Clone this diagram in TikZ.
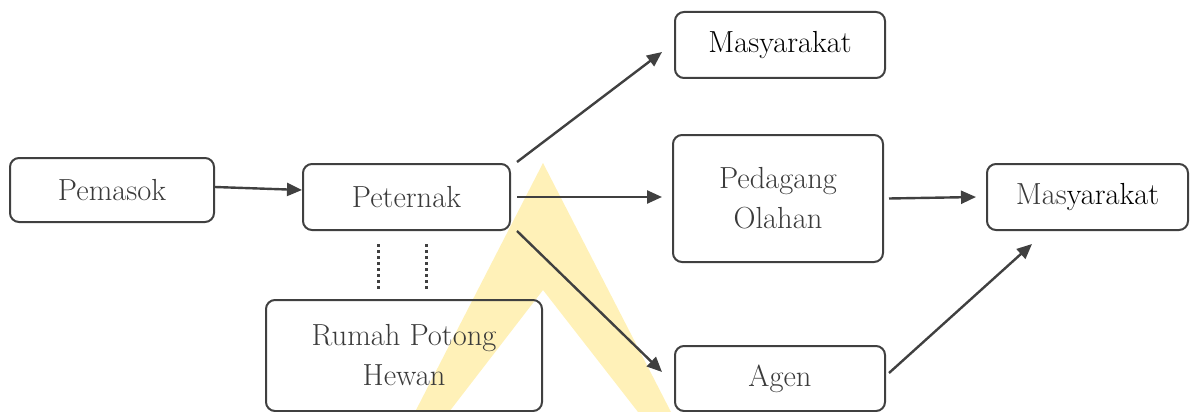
\documentclass[tikz,border=0pt]{standalone}
\usetikzlibrary{arrows.meta,calc}
\definecolor{ln}{HTML}{404040}
\definecolor{tx}{HTML}{3A3A3A}
\definecolor{wm}{HTML}{FFF1B8}
\tikzset{
  box/.style={draw=ln, line width=2pt, rounded corners=9pt, inner sep=0pt,
    text=tx, align=center, font=\fontsize{30.5}{40}\selectfont},
  arr/.style={draw=ln, line width=2.4pt, -{Triangle[length=15pt,width=13pt]}},
  dots/.style={draw=ln, line width=3pt, dash pattern=on 3.2pt off 2.8pt}
}
\begin{document}
\begin{tikzpicture}[x=1pt,y=-1pt]
\useasboundingbox (0,0) rectangle (1192,412);
% watermark
\fill[wm] (543,163) -- (671,412) -- (638,412) -- (543,290) -- (449,412) -- (415,412) -- cycle;
% nodes
\node[box, minimum width=204pt, minimum height=64pt] (pem) at (112,190) {Pemasok};
\node[box, minimum width=207pt, minimum height=66pt] (pet) at (406.5,197) {Peternak};
\node[box, minimum width=276pt, minimum height=111pt] (rph) at (404,355.5) {Rumah Potong\\Hewan};
\node[box, minimum width=210pt, minimum height=66pt, text=black] (m1) at (780,45) {Masyarakat};
\node[box, minimum width=210pt, minimum height=127pt] (ped) at (778,198.5) {Pedagang\\Olahan};
\node[box, minimum width=210pt, minimum height=65pt] (agen) at (780,378.5) {Agen};
\node[box, minimum width=201pt, minimum height=66pt, text=black] (m2) at (1087.5,197) {{\color{tx}Mas}yarakat};
% connectors
\draw[arr] ([yshift=3pt]pem.east) -- ([yshift=7pt]pet.west);
\draw[arr] ([xshift=6pt,yshift=1pt]pet.north east) -- ([xshift=-12pt,yshift=-7pt]m1.west);
\draw[arr] ([xshift=6pt]pet.east) -- ([xshift=-10pt,yshift=1.5pt]ped.west);
\draw[arr] ([xshift=6pt]pet.south east) -- ([xshift=-12pt,yshift=6.5pt]agen.west);
\draw[arr] ([xshift=5pt]ped.east) -- ([xshift=-10pt]m2.west);
\draw[arr] ([xshift=3pt,yshift=5.5pt]agen.east) -- ([xshift=46pt,yshift=-13pt]m2.south west);
\draw[dots] ([xshift=-28.5pt,yshift=-13pt]pet.south) -- ([xshift=-26pt,yshift=8pt]rph.north);
\draw[dots] ([xshift=19.5pt,yshift=-13pt]pet.south) -- ([xshift=22pt,yshift=8pt]rph.north);
\end{tikzpicture}
\end{document}
